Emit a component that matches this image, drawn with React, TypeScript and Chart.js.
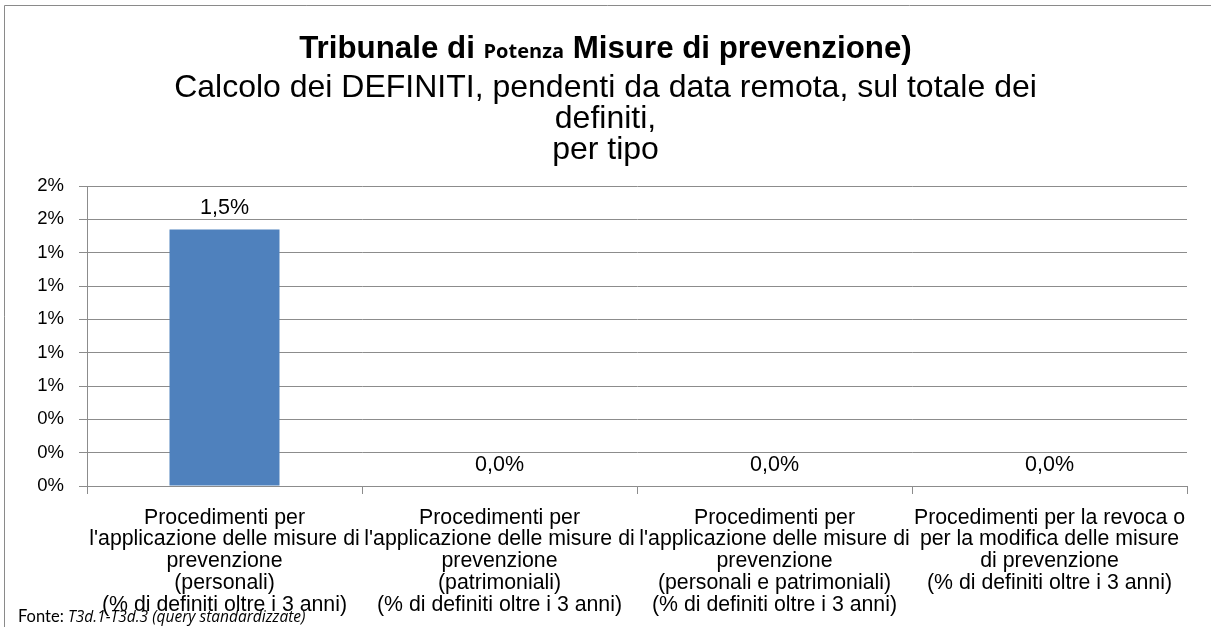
import React, { useEffect, useRef } from "react";
import { Chart, registerables } from "chart.js";

Chart.register(...registerables);

const categories: string[][] = [
  ["Procedimenti per", "l'applicazione delle misure di", "prevenzione", "(personali)", "(% di definiti oltre i 3 anni)"],
  ["Procedimenti per", "l'applicazione delle misure di", "prevenzione", "(patrimoniali)", "(% di definiti oltre i 3 anni)"],
  ["Procedimenti per", "l'applicazione delle misure di", "prevenzione", "(personali e patrimoniali)", "(% di definiti oltre i 3 anni)"],
  ["Procedimenti per la revoca o", "per la modifica delle misure", "di prevenzione", "(% di definiti oltre i 3 anni)"],
];

const values: number[] = [1.54, 0, 0, 0];

const titleParts: string[] = ["Tribunale di ", "Potenza", " Misure di prevenzione)"];
const subtitleLines: string[] = ["Calcolo dei DEFINITI, pendenti da data remota, sul totale dei", "definiti,", "per tipo"];
const sourceParts: string[] = ["Fonte: ", "T3d.1-T3d.3 (query standardizzate)"];

const yMax = 1.8;
const yStep = 0.2;

const SANS = "'Liberation Sans', Arial, sans-serif";
const GRID = "#8c8c8c";

const framePlugin = {
  id: "frame",
  beforeDraw(chart: any) {
    const ctx = chart.ctx;
    ctx.save();
    ctx.strokeStyle = "#8a8a8a";
    ctx.lineWidth = 1;
    ctx.beginPath();
    ctx.moveTo(4.5, chart.height);
    ctx.lineTo(4.5, 5.5);
    ctx.lineTo(chart.width, 5.5);
    ctx.stroke();
    ctx.restore();
  },
};

const headerPlugin = {
  id: "header",
  afterDraw(chart: any) {
    const ctx = chart.ctx;
    ctx.save();
    ctx.fillStyle = "#000";
    ctx.textBaseline = "alphabetic";
    ctx.textAlign = "left";
    const fonts = [`bold 31.3px ${SANS}`, `bold 20px 'Open Sans', sans-serif`, `bold 31.3px ${SANS}`];
    const widths = titleParts.map((t, i) => {
      ctx.font = fonts[i];
      return ctx.measureText(t).width;
    });
    const total = widths.reduce((a, b) => a + b, 0);
    let x = chart.width / 2 - total / 2;
    titleParts.forEach((t, i) => {
      ctx.font = fonts[i];
      ctx.fillText(t, x, 58);
      x += widths[i];
    });
    // source note
    ctx.font = `16.5px Lato, sans-serif`;
    ctx.fillText(sourceParts[0], 18, 622);
    const w0 = ctx.measureText(sourceParts[0]).width;
    ctx.font = `italic 15.5px 'Open Sans', sans-serif`;
    ctx.fillText(sourceParts[1], 18 + w0, 622);
    ctx.restore();
  },
};

const valueLabelPlugin = {
  id: "valueLabels",
  afterDatasetsDraw(chart: any) {
    const ctx = chart.ctx;
    const meta = chart.getDatasetMeta(0);
    ctx.save();
    ctx.fillStyle = "#000";
    ctx.font = `21.5px ${SANS}`;
    ctx.textAlign = "center";
    ctx.textBaseline = "alphabetic";
    meta.data.forEach((bar: any, i: number) => {
      const v = values[i];
      const txt = v.toFixed(1).replace(".", ",") + "%";
      ctx.fillText(txt, bar.x, bar.y - 15);
    });
    ctx.restore();
  },
};

export default function App() {
  const canvasRef = useRef<HTMLCanvasElement | null>(null);

  useEffect(() => {
    document.body.style.margin = "0";
    const canvas = canvasRef.current;
    if (!canvas) return;
    const chart = new Chart(canvas, {
      type: "bar",
      data: {
        labels: categories,
        datasets: [
          {
            data: values,
            backgroundColor: "#4F81BD",
            borderWidth: 0,
            barPercentage: 0.4,
            categoryPercentage: 1.0,
          },
        ],
      },
      options: {
        animation: false,
        responsive: true,
        maintainAspectRatio: false,
        layout: { padding: { top: 72, right: 24, bottom: 0, left: 24 } },
        plugins: {
          legend: { display: false },
          tooltip: { enabled: false },
          title: { display: false },
          subtitle: {
            display: true,
            text: subtitleLines,
            color: "#000",
            font: { family: SANS, size: 32, weight: "normal", lineHeight: 0.98 },
            padding: { top: 0, bottom: 20 },
          },
        },
        scales: {
          x: {
            grid: {
              display: true,
              drawOnChartArea: false,
              drawTicks: true,
              tickLength: 8,
              color: GRID,
              offset: true,
            },
            border: { display: true, color: GRID },
            ticks: {
              color: "#000",
              font: { family: SANS, size: 21.3, lineHeight: 1.02 },
              padding: 13,
              maxRotation: 0,
              minRotation: 0,
              autoSkip: false,
            },
            afterFit: (s: any) => {
              s.height = 141;
            },
          },
          y: {
            min: 0,
            max: yMax,
            grid: { color: GRID, tickLength: 8 },
            border: { display: true, color: GRID },
            ticks: {
              stepSize: yStep,
              color: "#000",
              font: { family: SANS, size: 18.5 },
              padding: 15,
              callback: (v: any) => Math.round(Number(v)) + "%",
            },
            afterFit: (s: any) => {
              s.width = 63;
            },
          },
        },
      },
      plugins: [framePlugin, valueLabelPlugin, headerPlugin],
    });
    return () => chart.destroy();
  }, []);

  return (
    <div style={{ width: 1211, height: 627, position: "relative" }}>
      <canvas ref={canvasRef} />
    </div>
  );
}
